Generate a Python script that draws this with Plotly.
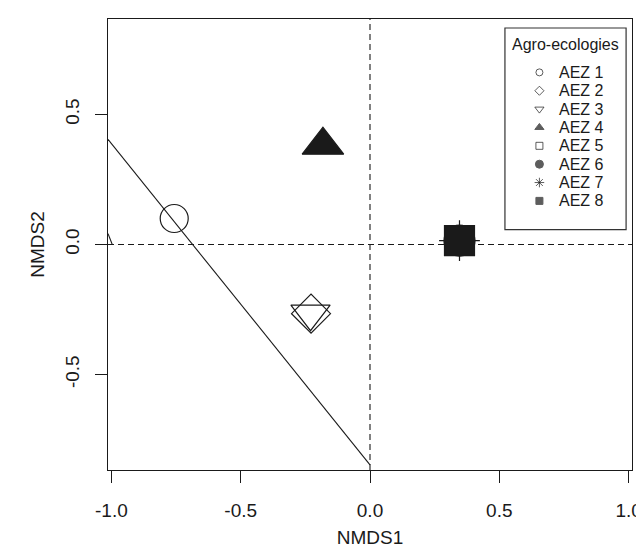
import plotly.graph_objects as go

# ---- data ----
groups = ["AEZ 1", "AEZ 2", "AEZ 3", "AEZ 4", "AEZ 5", "AEZ 6", "AEZ 7", "AEZ 8"]
nmds1 = [-0.757, -0.228, -0.230, -0.182, 0.346, 0.346, 0.346, 0.346]
nmds2 = [0.100, -0.266, -0.266, 0.382, 0.015, 0.015, 0.015, 0.015]
line_x = [-1.013, 0.0]
line_y = [0.404, -0.847]
stub_x = [-1.013, -0.997]
stub_y = [0.042, 0.001]
xtick_vals = [-1.0, -0.5, 0.0, 0.5, 1.0]
xtick_text = ["-1.0", "-0.5", "0.0", "0.5", "1.0"]
ytick_vals = [-0.5, 0.0, 0.5]
ytick_text = ["-0.5", "0.0", "0.5"]
legend_title = "Agro-ecologies"

# ---- styles ----
symbols = ["circle-open", "diamond-open", "triangle-down-open", "triangle-up",
           "square-open", "circle", "asterisk-open", "square"]
sizes = [28, 30, 34, 36, 28, 31, 34, 30]
leg_sizes = [7, 7, 8, 8, 7, 8, 8, 7]
ink = "#1a1a1a"
FONT = "Liberation Sans, Arial, Helvetica, sans-serif"

W, H = 644, 553
L, R, T, B = 100, 12, 10, 91
PW, PH = W - L - R, H - T - B

def px_x(p):
    return (p - L) / PW

def px_y(p):
    return 1 - (p - T) / PH

fig = go.Figure()

fig.add_trace(go.Scatter(x=line_x, y=line_y, mode="lines",
                         line=dict(color=ink, width=1.1), showlegend=False, hoverinfo="skip"))
fig.add_trace(go.Scatter(x=stub_x, y=stub_y, mode="lines",
                         line=dict(color=ink, width=1.1), showlegend=False, hoverinfo="skip"))

for g, x, y, s, sz in zip(groups, nmds1, nmds2, symbols, sizes):
    fig.add_trace(go.Scatter(
        x=[x], y=[y], mode="markers", name=g, showlegend=False,
        marker=dict(symbol=s, size=sz, color=ink,
                    line=dict(color=ink, width=1.2))))

# manual legend in an overlay axis (paper-like coordinates)
leg_box = dict(x0=503, x1=626, y0=19, y1=221)
row0, drow = 63.5, 18.4
sym_x, txt_x = 538, 556
leg_y = [px_y(row0 + i * drow) for i in range(len(groups))]
fig.add_trace(go.Scatter(
    x=[px_x(sym_x)] * len(groups), y=leg_y, mode="markers",
    xaxis="x2", yaxis="y2", showlegend=False, hoverinfo="skip",
    marker=dict(symbol=symbols, size=leg_sizes, color=ink,
                line=dict(color=ink, width=1))))

annotations = []
for g, yy in zip(groups, leg_y):
    annotations.append(dict(x=px_x(txt_x), y=yy, xref="paper", yref="paper",
                            text=g, showarrow=False, xanchor="left", yanchor="middle",
                            font=dict(family=FONT, size=16, color=ink)))
annotations.append(dict(x=px_x((leg_box["x0"] + leg_box["x1"]) / 2), y=px_y(36),
                        xref="paper", yref="paper", text=legend_title, showarrow=False,
                        xanchor="center", yanchor="middle",
                        font=dict(family=FONT, size=16, color=ink)))

shapes = [
    dict(type="line", xref="x", yref="y domain", x0=0, x1=0, y0=0, y1=1,
         line=dict(color=ink, width=1.1, dash="6px,4px"), layer="below"),
    dict(type="line", xref="x domain", yref="y", x0=0, x1=1, y0=0, y1=0,
         line=dict(color=ink, width=1.1, dash="6px,4px"), layer="below"),
    dict(type="rect", xref="paper", yref="paper",
         x0=px_x(leg_box["x0"]), x1=px_x(leg_box["x1"]),
         y0=px_y(leg_box["y1"]), y1=px_y(leg_box["y0"]),
         line=dict(color="#333333", width=1.2), fillcolor="rgba(0,0,0,0)"),
]

axis_common = dict(showgrid=False, zeroline=False, showline=True, mirror=True,
                   linecolor=ink, linewidth=1.2, ticks="outside", ticklen=12,
                   tickwidth=1.2, tickcolor=ink,
                   tickfont=dict(family=FONT, size=19, color=ink))

fig.update_layout(
    width=W, height=H,
    margin=dict(l=L, r=R, t=T, b=B, pad=0),
    paper_bgcolor="white", plot_bgcolor="white",
    xaxis=dict(range=[-1.013, 1.013], tickvals=xtick_vals, ticktext=xtick_text,
               ticklabelstandoff=11,
               title=dict(text="NMDS1", font=dict(family=FONT, size=19, color=ink), standoff=10),
               **axis_common),
    yaxis=dict(range=[-0.867, 0.867], tickvals=ytick_vals, ticktext=ytick_text,
               tickangle=-90, ticklabelstandoff=8,
               title=dict(text="NMDS2", font=dict(family=FONT, size=19, color=ink), standoff=12),
               **axis_common),
    xaxis2=dict(domain=[0, 1], range=[0, 1], visible=False, overlaying="x", anchor="y2"),
    yaxis2=dict(domain=[0, 1], range=[0, 1], visible=False, overlaying="y", anchor="x2"),
    shapes=shapes, annotations=annotations,
    showlegend=False,
)

fig.write_html("out.html")
